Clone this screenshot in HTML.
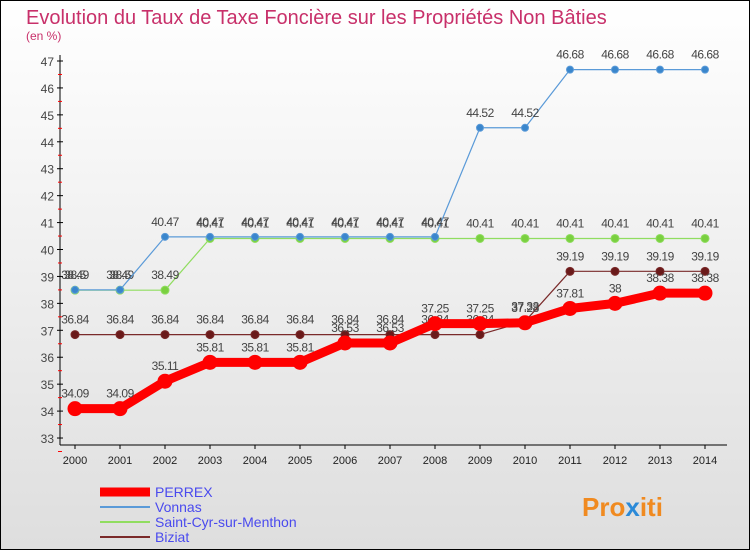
<!DOCTYPE html>
<html><head><meta charset="utf-8"><style>
body{margin:0;width:750px;height:550px;overflow:hidden;font-family:"Liberation Sans",sans-serif}
</style></head><body>
<svg id="c" width="750" height="550" xmlns="http://www.w3.org/2000/svg">
<defs><linearGradient id="bg" x1="0" y1="0" x2="0" y2="1"><stop offset="0" stop-color="#ffffff"/><stop offset="1" stop-color="#dedede"/></linearGradient></defs>
<rect x="0.5" y="0.5" width="749" height="549" fill="url(#bg)" stroke="#000"/>
<text x="26" y="24" font-size="20" fill="#c8306a">Evolution du Taux de Taxe Foncière sur les Propriétés Non Bâties</text>
<text x="26" y="40" font-size="12" fill="#c8306a">(en %)</text>
<g id="axes"></g><g id="series"></g><g id="legend"></g>
<text x="582" y="516" font-size="26" font-weight="bold" fill="#f08a20">Pro<tspan fill="#2b8ad8">x</tspan>iti</text>
</svg>
<script>
const years=[2000,2001,2002,2003,2004,2005,2006,2007,2008,2009,2010,2011,2012,2013,2014];
const perrex=[34.09,34.09,35.11,35.81,35.81,35.81,36.53,36.53,37.25,37.25,37.28,37.81,38,38.38,38.38];
const vonnas=[38.50,38.50,40.47,40.47,40.47,40.47,40.47,40.47,40.47,44.52,44.52,46.68,46.68,46.68,46.68];
const stcyr=[38.49,38.49,38.49,40.41,40.41,40.41,40.41,40.41,40.41,40.41,40.41,40.41,40.41,40.41,40.41];
const biziat=[36.84,36.84,36.84,36.84,36.84,36.84,36.84,36.84,36.84,36.84,37.33,39.19,39.19,39.19,39.19];
const yTicks=[33,34,35,36,37,38,39,40,41,42,43,44,45,46,47];
const NS="http://www.w3.org/2000/svg";
const X=i=>75+i*45, Y=v=>61+(47-v)*26.93;
function mk(t,a,p){const e=document.createElementNS(NS,t);for(const k in a)e.setAttribute(k,a[k]);p.appendChild(e);return e;}
const ax=document.getElementById('axes');
let l=mk('line',{x1:60,y1:55,x2:60,y2:445,stroke:'#000'},ax);
l=mk('line',{x1:60,y1:445,x2:727,y2:445,stroke:'#000'},ax);
yTicks.forEach(v=>{mk('line',{x1:57,x2:63,y1:Y(v),y2:Y(v),stroke:'#000'},ax);
 mk('line',{x1:58,x2:62,y1:Y(v-0.5),y2:Y(v-0.5),stroke:'#f00'},ax);
 const t=mk('text',{x:54,y:Y(v)+5,'font-size':12,fill:'#444','text-anchor':'end'},ax);t.textContent=v;
 });
years.forEach((y,i)=>{mk('line',{x1:X(i),x2:X(i),y1:445,y2:449,stroke:'#000'},ax);
 const t=mk('text',{x:X(i),y:464,'font-size':11,fill:'#222','text-anchor':'middle'},ax);t.textContent=y;
 });
const sg=document.getElementById('series');
function draw(name,data,col,w,r,pc){const g=mk('g',{},sg);
 mk('polyline',{points:data.map((v,i)=>X(i)+','+Y(v)).join(' '),fill:'none',stroke:col,'stroke-width':w,'stroke-linejoin':'round'},g);
 data.forEach((v,i)=>{const c=mk('circle',{cx:X(i),cy:Y(v),r:r,fill:pc,stroke:col,'stroke-width':1},g);
  
  const t=mk('text',{x:X(i),y:Y(v)-11,'font-size':12,fill:'#444','text-anchor':'middle','letter-spacing':'-0.5'},g);t.textContent=v;
  });}
draw('biziat',biziat,'#7a2a2a',1.2,4,'#6a1a1a');
draw('saint-cyr',stcyr,'#90dd60',1.2,4,'#7ad040');
draw('vonnas',vonnas,'#5a9ad8',1.2,3.5,'#3a86cc');
draw('perrex',perrex,'#ff0000',9,7,'#ff0000');
const lg=document.getElementById('legend');
const items=[['PERREX','#ff0000',9],['Vonnas','#5a9ad8',2],['Saint-Cyr-sur-Menthon','#90dd60',2],['Biziat','#7a2a2a',2]];
items.forEach((it,i)=>{const y=492+i*15;const g=mk('g',{},lg);
 mk('line',{x1:100,x2:150,y1:y,y2:y,stroke:it[1],'stroke-width':it[2]},g);
 const t=mk('text',{x:155,y:y+5,'font-size':14,fill:'#4a4aee'},g);t.textContent=it[0];});
</script>
</body></html>
